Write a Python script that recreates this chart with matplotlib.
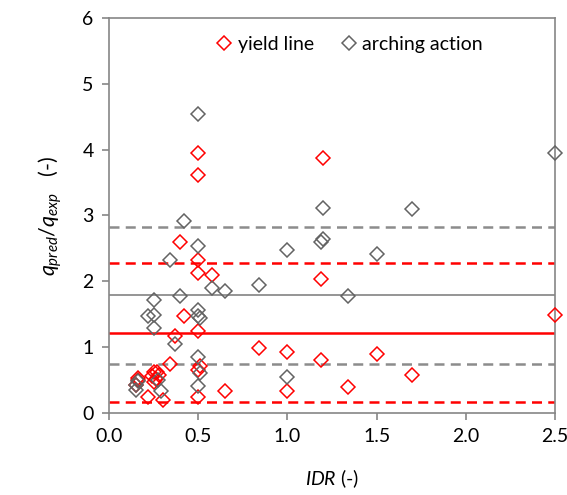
import matplotlib
matplotlib.use("Agg")
import matplotlib.pyplot as plt

RED = "#FF0000"
GRAY = "#636363"
LINE_GRAY = "#8C8C8C"
AXIS = "#868686"

# yield line points (IDR, q_pred/q_exp)
yl_x = [0.15, 0.16, 0.16, 0.22, 0.24, 0.25, 0.25, 0.265, 0.27, 0.28, 0.30, 0.34,
        0.37, 0.40, 0.42, 0.50, 0.50, 0.50, 0.50, 0.50, 0.51, 0.50, 0.50, 0.58,
        0.65, 0.84, 1.00, 1.00, 1.20, 1.19, 1.19, 1.34, 1.50, 1.70, 2.50]
yl_y = [0.43, 0.50, 0.53, 0.24, 0.56, 0.63, 0.47, 0.52, 0.63, 0.58, 0.19, 0.75,
        1.17, 2.59, 1.47, 3.95, 3.62, 2.33, 2.12, 1.24, 0.71, 0.66, 0.25, 2.09,
        0.34, 0.99, 0.93, 0.34, 3.88, 2.03, 0.81, 0.40, 0.90, 0.58, 1.49]

# arching action points
aa_x = [0.15, 0.15, 0.16, 0.22, 0.25, 0.25, 0.25, 0.275, 0.29, 0.34, 0.37, 0.40,
        0.42, 0.50, 0.50, 0.50, 0.50, 0.51, 0.50, 0.51, 0.50, 0.58, 0.65, 0.84,
        1.00, 1.00, 1.20, 1.20, 1.19, 1.34, 1.50, 1.70, 2.50]
aa_y = [0.35, 0.42, 0.48, 1.47, 1.49, 1.71, 1.29, 0.50, 0.33, 2.33, 1.05, 1.77,
        2.91, 4.54, 2.54, 1.57, 1.47, 1.44, 0.85, 0.60, 0.41, 1.90, 1.85, 1.95,
        2.48, 0.54, 3.12, 2.65, 2.60, 1.77, 2.41, 3.10, 3.95]

# mean and bounds
yl_mean, yl_lo, yl_hi = 1.22, 0.17, 2.28
aa_mean, aa_lo, aa_hi = 1.79, 0.74, 2.83

plt.rcParams["font.family"] = ["Lato", "DejaVu Sans"]
plt.rcParams["mathtext.fontset"] = "custom"
plt.rcParams["mathtext.it"] = "Lato:italic"
plt.rcParams["mathtext.rm"] = "Lato"

fig = plt.figure(figsize=(5.67, 4.95), dpi=100)
ax = fig.add_axes([0.1922, 0.1657, 0.7868, 0.7979])

ax.axhline(aa_hi, color=LINE_GRAY, lw=1.8, ls=(0, (4, 2.5)), zorder=1)
ax.axhline(aa_mean, color=LINE_GRAY, lw=1.3, zorder=1)
ax.axhline(aa_lo, color=LINE_GRAY, lw=1.8, ls=(0, (4, 2.5)), zorder=1)
ax.axhline(yl_hi, color=RED, lw=1.8, ls=(0, (4, 2.5)), zorder=1)
ax.axhline(yl_mean, color=RED, lw=1.8, zorder=1)
ax.axhline(yl_lo, color=RED, lw=1.8, ls=(0, (4, 2.5)), zorder=1)

ax.plot(yl_x, yl_y, ls="none", marker="D", ms=7.5, mfc="none", mec=RED, mew=1.1,
        label="yield line", zorder=3, clip_on=False)
ax.plot(aa_x, aa_y, ls="none", marker="D", ms=7.5, mfc="none", mec=GRAY, mew=1.1,
        label="arching action", zorder=3, clip_on=False)

ax.set_xlim(0, 2.5)
ax.set_ylim(0, 6)
ax.set_xticks([0, 0.5, 1.0, 1.5, 2.0, 2.5])
ax.set_xticklabels(["0.0", "0.5", "1.0", "1.5", "2.0", "2.5"])
ax.set_yticks(range(7))
for s in ax.spines.values():
    s.set_color(AXIS)
    s.set_linewidth(1.2)
ax.tick_params(direction="out", length=5, color=AXIS, width=1.2,
               labelsize=14, pad=6)

ax.set_xlabel(r"$IDR$ (-)", fontsize=14, labelpad=16)
ax.set_ylabel(r"$q_{pred}/q_{exp}$   (-)", fontsize=15.5, labelpad=13)

ax.legend(loc="upper center", bbox_to_anchor=(0.535, 1.0), ncol=2, frameon=False,
          fontsize=14, handletextpad=0.1, columnspacing=1.2, handlelength=1.2)

fig.savefig("out.png", dpi=100)
